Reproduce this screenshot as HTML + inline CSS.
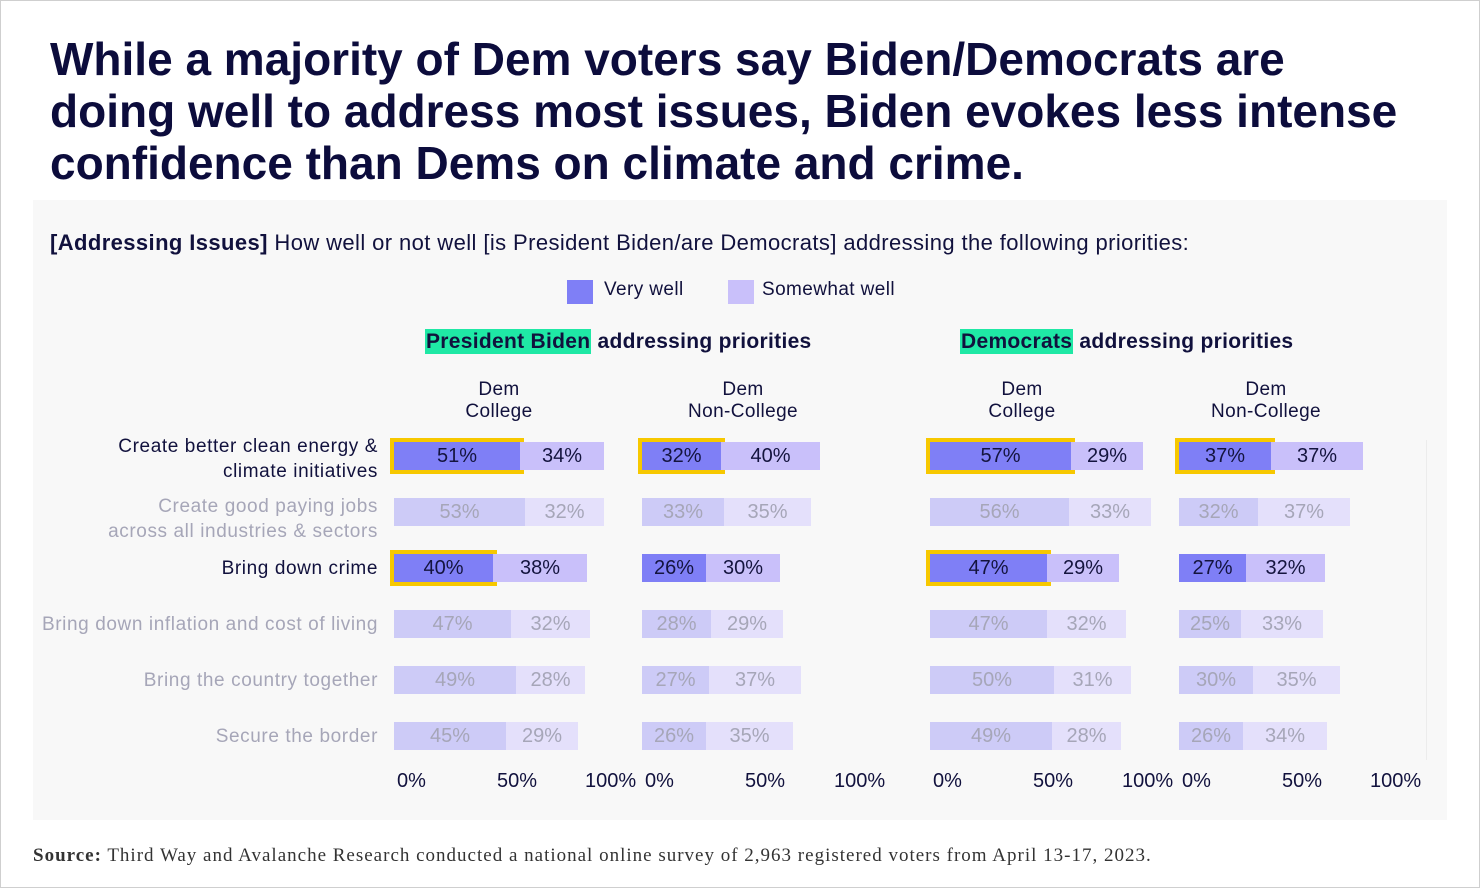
<!DOCTYPE html>
<html><head><meta charset="utf-8"><style>
*{margin:0;padding:0;box-sizing:border-box}
body{width:1480px;height:888px;background:#fff;position:relative;overflow:hidden;font-family:"Liberation Sans",sans-serif;color:#11113d}
.frame{position:absolute;left:0;top:0;width:1480px;height:888px;border:1px solid #cfcfcf}
h1{position:absolute;left:50px;top:33px;font-size:46px;line-height:52px;font-weight:bold;color:#0c0c3c;letter-spacing:0px;white-space:nowrap}
.panel{position:absolute;left:33px;top:200px;width:1414px;height:620px;background:#f8f8f8;overflow:hidden}
.abs{position:absolute}
.q{left:50px;top:230px;font-size:22px;white-space:nowrap;letter-spacing:0.4px}
.lg{font-size:19px;top:279px;letter-spacing:0.4px}
.sw{width:26px;height:24px;top:280px}
.sub{font-size:21px;font-weight:bold;top:330px;white-space:nowrap;letter-spacing:0.3px}
.hl{background:#1fe8a5;padding:1px 1px}
.gh{font-size:19px;text-align:center;line-height:22px;top:379px;width:200px;letter-spacing:0.4px}
.lbl{right:1102px;font-size:19px;text-align:right;line-height:25px;white-space:nowrap;letter-spacing:0.6px}
.bar{position:absolute;height:28px;display:flex}
.bar div{height:28px;line-height:28px;text-align:center;font-size:20px}
.v{background:#7f7ff6;color:#14143e}.s{background:#c9c0fa;color:#14143e}
.f .v{background:#cdcbf7;color:#a6a6b8}.f .s{background:#e4e0fb;color:#a6a6b8}
.o{outline:4px solid #f7c800}
.ax{top:770px;font-size:20px}
.grid{position:absolute;top:440px;width:1px;height:320px;background:#ececec}
.src{left:33px;top:845px;font-family:"Liberation Serif",serif;font-size:19px;color:#333;letter-spacing:1.0px;white-space:nowrap}
</style></head><body>
<div class="frame"></div>
<h1>While a majority of Dem voters say Biden/Democrats are<br>doing well to address most issues, Biden evokes less intense<br>confidence than Dems on climate and crime.</h1>
<div class="panel"></div>
<div class="abs q"><b>[Addressing Issues]</b> How well or not well [is President Biden/are Democrats] addressing the following priorities:</div>
<div class="abs sw" style="left:567px;background:#7f7ff6"></div><div class="abs lg" style="left:604px">Very well</div>
<div class="abs sw" style="left:728px;background:#c9c0fa"></div><div class="abs lg" style="left:762px">Somewhat well</div>
<div class="abs sub" style="left:425px"><span class="hl">President Biden</span> addressing priorities</div>
<div class="abs sub" style="left:960px"><span class="hl">Democrats</span> addressing priorities</div>
<div class="abs gh" style="left:399px">Dem<br>College</div>
<div class="abs gh" style="left:643px">Dem<br>Non-College</div>
<div class="abs gh" style="left:922px">Dem<br>College</div>
<div class="abs gh" style="left:1166px">Dem<br>Non-College</div>

<div class="grid" style="left:1426px"></div>

<div class="abs lbl" style="top:434px">Create better clean energy &amp;<br>climate initiatives</div>
<div class="abs lbl" style="top:494px;color:#a6a6b8">Create good paying jobs<br>across all industries &amp; sectors</div>
<div class="abs lbl" style="top:556px">Bring down crime</div>
<div class="abs lbl" style="top:612px;color:#a6a6b8">Bring down inflation and cost of living</div>
<div class="abs lbl" style="top:668px;color:#a6a6b8">Bring the country together</div>
<div class="abs lbl" style="top:724px;color:#a6a6b8">Secure the border</div>
<div class="abs" style="left:0;top:600px;width:32px;height:50px;background:#fff"></div>
<div class="abs" style="left:0;top:0;width:1px;height:888px;background:#cfcfcf"></div>

<!-- P1 -->
<div class="bar" style="left:394px;top:442px"><div class="v o" style="width:126px">51%</div><div class="s" style="width:84px">34%</div></div>
<div class="bar f" style="left:394px;top:498px"><div class="v" style="width:131px">53%</div><div class="s" style="width:79px">32%</div></div>
<div class="bar" style="left:394px;top:554px"><div class="v o" style="width:99px">40%</div><div class="s" style="width:94px">38%</div></div>
<div class="bar f" style="left:394px;top:610px"><div class="v" style="width:117px">47%</div><div class="s" style="width:79px">32%</div></div>
<div class="bar f" style="left:394px;top:666px"><div class="v" style="width:122px">49%</div><div class="s" style="width:69px">28%</div></div>
<div class="bar f" style="left:394px;top:722px"><div class="v" style="width:112px">45%</div><div class="s" style="width:72px">29%</div></div>
<!-- P2 -->
<div class="bar" style="left:642px;top:442px"><div class="v o" style="width:79px">32%</div><div class="s" style="width:99px">40%</div></div>
<div class="bar f" style="left:642px;top:498px"><div class="v" style="width:82px">33%</div><div class="s" style="width:87px">35%</div></div>
<div class="bar" style="left:642px;top:554px"><div class="v" style="width:64px">26%</div><div class="s" style="width:74px">30%</div></div>
<div class="bar f" style="left:642px;top:610px"><div class="v" style="width:69px">28%</div><div class="s" style="width:72px">29%</div></div>
<div class="bar f" style="left:642px;top:666px"><div class="v" style="width:67px">27%</div><div class="s" style="width:92px">37%</div></div>
<div class="bar f" style="left:642px;top:722px"><div class="v" style="width:64px">26%</div><div class="s" style="width:87px">35%</div></div>
<!-- P3 -->
<div class="bar" style="left:930px;top:442px"><div class="v o" style="width:141px">57%</div><div class="s" style="width:72px">29%</div></div>
<div class="bar f" style="left:930px;top:498px"><div class="v" style="width:139px">56%</div><div class="s" style="width:82px">33%</div></div>
<div class="bar" style="left:930px;top:554px"><div class="v o" style="width:117px">47%</div><div class="s" style="width:72px">29%</div></div>
<div class="bar f" style="left:930px;top:610px"><div class="v" style="width:117px">47%</div><div class="s" style="width:79px">32%</div></div>
<div class="bar f" style="left:930px;top:666px"><div class="v" style="width:124px">50%</div><div class="s" style="width:77px">31%</div></div>
<div class="bar f" style="left:930px;top:722px"><div class="v" style="width:122px">49%</div><div class="s" style="width:69px">28%</div></div>
<!-- P4 -->
<div class="bar" style="left:1179px;top:442px"><div class="v o" style="width:92px">37%</div><div class="s" style="width:92px">37%</div></div>
<div class="bar f" style="left:1179px;top:498px"><div class="v" style="width:79px">32%</div><div class="s" style="width:92px">37%</div></div>
<div class="bar" style="left:1179px;top:554px"><div class="v" style="width:67px">27%</div><div class="s" style="width:79px">32%</div></div>
<div class="bar f" style="left:1179px;top:610px"><div class="v" style="width:62px">25%</div><div class="s" style="width:82px">33%</div></div>
<div class="bar f" style="left:1179px;top:666px"><div class="v" style="width:74px">30%</div><div class="s" style="width:87px">35%</div></div>
<div class="bar f" style="left:1179px;top:722px"><div class="v" style="width:64px">26%</div><div class="s" style="width:84px">34%</div></div>

<div class="abs ax" style="left:397px">0%</div><div class="abs ax" style="left:497px">50%</div><div class="abs ax" style="left:585px">100%</div>
<div class="abs ax" style="left:645px">0%</div><div class="abs ax" style="left:745px">50%</div><div class="abs ax" style="left:834px">100%</div>
<div class="abs ax" style="left:933px">0%</div><div class="abs ax" style="left:1033px">50%</div><div class="abs ax" style="left:1122px">100%</div>
<div class="abs ax" style="left:1182px">0%</div><div class="abs ax" style="left:1282px">50%</div><div class="abs ax" style="left:1370px">100%</div>

<div class="abs src"><b>Source:</b> Third Way and Avalanche Research conducted a national online survey of 2,963 registered voters from April 13-17, 2023.</div>
</body></html>
